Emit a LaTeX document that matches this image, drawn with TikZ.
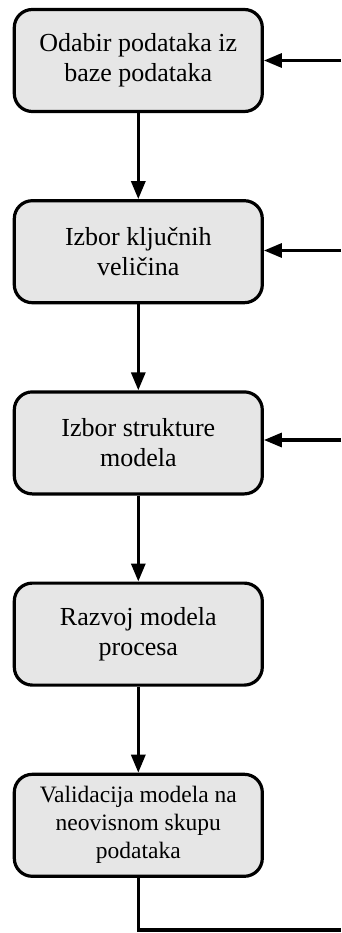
\documentclass[tikz,border=0pt]{standalone}
\usepackage{fontspec}
\setmainfont{Liberation Serif}
\usetikzlibrary{arrows.meta,positioning}
\definecolor{boxgray}{RGB}{230,230,230}
\tikzset{
  korak/.style={draw, line width=3.2pt, rounded corners=18pt, fill=boxgray,
    minimum width=248pt, minimum height=102pt, inner sep=0pt, align=center,
    font=\fontsize{26}{30}\selectfont},
  tok/.style={line width=3.2pt, -{Triangle[length=18pt,width=14pt]}},
  veza/.style={line width=3.2pt}
}
\begin{document}
\begin{tikzpicture}[x=1pt,y=-1pt, node distance=86pt]
        \useasboundingbox (0,0) rectangle (341,933);

        \node[korak] (odabir) at (138.3,60.5) {Odabir podataka iz\\baze podataka};
        \node[korak, below=of odabir] (kljucne) {Izbor ključnih\\veličina};
        \node[korak, below=of kljucne] (struktura) {Izbor strukture\\modela};
        \node[korak, below=of struktura] (razvoj) {Razvoj modela\\procesa};
        \node[korak, below=of razvoj, font=\fontsize{23.5}{28}\selectfont] (validacija) {Validacija modela na\\neovisnom skupu\\podataka};

        % ulazi s desne strane
        \coordinate (ulaz1) at (341,60.5);
        \coordinate (ulaz2) at (341,250.5);
        \coordinate (ulaz3) at (341,440);
        \coordinate (povrat) at (341,930);

        \draw[tok] (odabir) -- (kljucne);
        \draw[tok] (kljucne) -- (struktura);
        \draw[tok] (struktura) -- (razvoj);
        \draw[tok] (razvoj) -- (validacija);

        \draw[tok] (ulaz1) -- (odabir.east |- ulaz1);
        \draw[tok] (ulaz2) -- (kljucne.east |- ulaz2);
        \draw[tok] (ulaz3) -- (struktura.east |- ulaz3);

        \draw[veza] (validacija.south) |- (povrat);
    \end{tikzpicture}
\end{document}
